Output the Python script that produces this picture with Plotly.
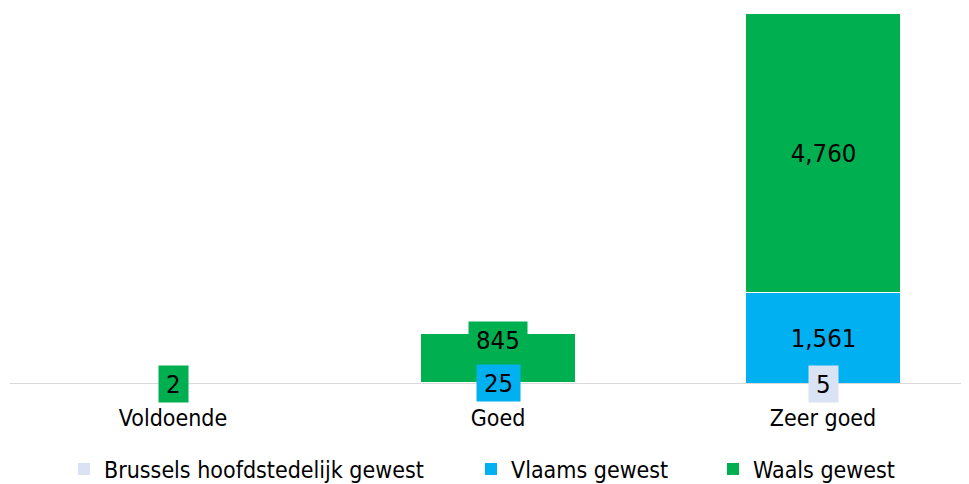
import plotly.graph_objects as go

categories = ["Voldoende", "Goed", "Zeer goed"]
series_names = ["Brussels hoofdstedelijk gewest", "Vlaams gewest", "Waals gewest"]
brussels = [0, 0, 5]
vlaams = [0, 25, 1561]
waals = [2, 845, 4760]
colors = ["#DAE3F3", "#00B0F0", "#00B050"]

FONT = "DejaVu Sans Condensed"
W, H = 961, 476
fig = go.Figure()
all_vals = [brussels, vlaams, waals]
legend_ids = ["legend", "legend2", "legend3"]
legend_x = [56, 463, 705]
for name, vals, col, lid in zip(series_names, all_vals, colors, legend_ids):
    fig.add_trace(go.Bar(x=list(range(len(categories))), y=vals, name=name,
                         marker=dict(color=col,
                                     line=dict(color="white",
                                               width=[1 if v >= 50 else 0 for v in vals])),
                         width=0.474, legend=lid))

# data labels
label_shift = {(2, 1): 18}
for si, (vals, col) in enumerate(zip(all_vals, colors)):
    for ci, v in enumerate(vals):
        if v == 0:
            continue
        base = sum(all_vals[k][ci] for k in range(si))
        txt = f"{v:,}"
        fig.add_annotation(x=ci, y=base + v / 2, text=txt, showarrow=False,
                           bgcolor=col, font=dict(family=FONT, size=25.5, color="black"),
                           borderpad=3, width=14.6 * len(txt) + 8,
                           yshift=label_shift.get((si, ci), 0))

layout_legends = {}
for lid, lx in zip(legend_ids, legend_x):
    layout_legends[lid] = dict(orientation="h", xref="container", yref="container",
                               x=lx / W, xanchor="left", y=1 - 461 / H, yanchor="middle",
                               font=dict(family=FONT, size=23, color="black"),
                               bgcolor="rgba(0,0,0,0)", itemwidth=30)

fig.update_layout(
    barmode="stack", width=W, height=H,
    margin=dict(l=2, r=8, t=0, b=99.5, autoexpand=False),
    plot_bgcolor="white", paper_bgcolor="white",
    font=dict(family=FONT, size=23, color="black"),
    xaxis=dict(range=[-0.50154, 2.42462], tickvals=list(range(len(categories))),
               ticktext=categories, showgrid=False, showline=False, ticks="",
               zeroline=False, tickfont=dict(size=23), ticklabelstandoff=18,
               automargin=False),
    yaxis=dict(range=[0, 6428], visible=False, showgrid=False, zeroline=False,
               automargin=False),
    showlegend=True,
    **layout_legends,
)
fig.add_shape(type="line", xref="paper", x0=0, x1=1.0084, yref="y", y0=0, y1=0,
              line=dict(color="#D9D9D9", width=2), layer="above")
fig.write_html("out.html")
